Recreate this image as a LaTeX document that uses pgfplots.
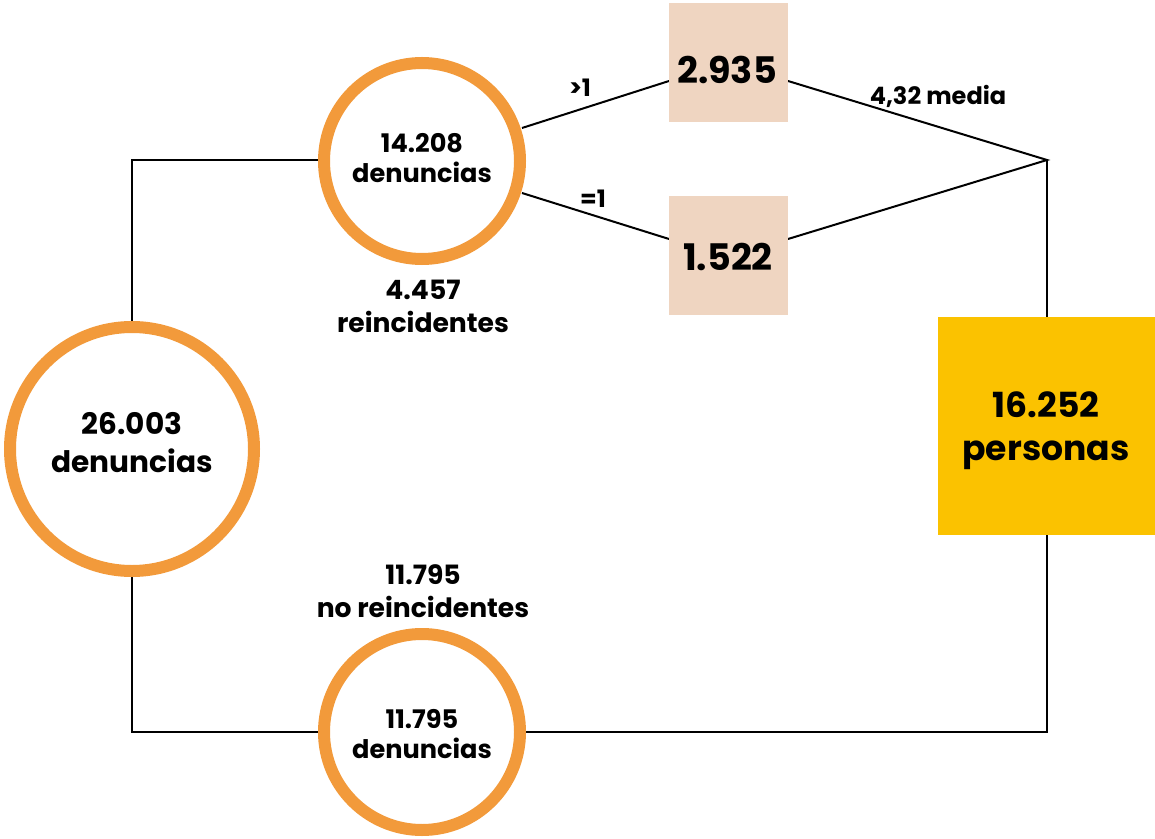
\documentclass[border=0pt]{standalone}
\usepackage{pgfplots}
\pgfplotsset{compat=1.18}
\usepackage{fontspec}
\setmainfont{Poppins}
\definecolor{ring}{HTML}{F29A3B}
\definecolor{peach}{HTML}{EFD5C1}
\definecolor{gold}{HTML}{FBC200}
\begin{document}
\begin{tikzpicture}
\begin{axis}[x=0.5pt, y=0.5pt, y dir=reverse, xmin=0, xmax=1155, ymin=0, ymax=839,
  hide axis, clip=false, scale only axis]
% connecting lines
\addplot[black, line width=1pt, mark=none] coordinates {(318,160) (132,160) (132,449)};
\addplot[black, line width=1pt, mark=none] coordinates {(132,449) (132,732) (422,732) (1047,732) (1047,160)};
\addplot[black, line width=1pt, mark=none] coordinates {(522,128) (669,81)};
\addplot[black, line width=1pt, mark=none] coordinates {(522,193) (669,239)};
\addplot[black, line width=1pt, mark=none] coordinates {(788,81) (1047,160) (788,239)};
% boxes
\addplot[fill=peach, draw=none, mark=none] coordinates {(669,3) (788,3) (788,122) (669,122)} -- cycle;
\addplot[fill=peach, draw=none, mark=none] coordinates {(669,196) (788,196) (788,315) (669,315)} -- cycle;
\addplot[fill=gold, draw=none, mark=none] coordinates {(938,317) (1155,317) (1155,535) (938,535)} -- cycle;
% rings
\addplot[only marks, mark=*, mark size=61pt, mark options={draw=ring, fill=white, line width=6pt}] coordinates {(132,449)};
\addplot[only marks, mark=*, mark size=49pt, mark options={draw=ring, fill=white, line width=6pt}] coordinates {(422,161) (422,732)};
% anchor coordinates for texts and frame
\coordinate (LL) at (axis cs:0,839);
\coordinate (UR) at (axis cs:1155,0);
\coordinate (t1) at (axis cs:132,443);
\coordinate (t2) at (axis cs:422,158);
\coordinate (t3) at (axis cs:422,734);
\coordinate (t4) at (axis cs:423,306);
\coordinate (t5) at (axis cs:423,591);
\coordinate (t6) at (axis cs:727,70);
\coordinate (t7) at (axis cs:728,257);
\coordinate (t8) at (axis cs:1046,431);
\coordinate (t9) at (axis cs:580,88);
\coordinate (t10) at (axis cs:593,199);
\coordinate (t11) at (axis cs:938,96);
\end{axis}
\begin{scope}[every node/.style={inner sep=0pt, align=center}]
\node[font=\bfseries\fontsize{14.8}{19}\selectfont] at (t1) {26.003\\denuncias};
\node[font=\bfseries\fontsize{12.8}{15}\selectfont] at (t2) {14.208\\denuncias};
\node[font=\bfseries\fontsize{12.8}{15}\selectfont] at (t3) {11.795\\denuncias};
\node[font=\bfseries\fontsize{13.3}{16.5}\selectfont] at (t4) {4.457\\reincidentes};
\node[font=\bfseries\fontsize{13.3}{16.5}\selectfont] at (t5) {11.795\\no reincidentes};
\node[font=\bfseries\fontsize{18.3}{22}\selectfont] at (t6) {2.935};
\node[font=\bfseries\fontsize{18.3}{22}\selectfont] at (t7) {1.522};
\node[font=\bfseries\fontsize{17.3}{21.5}\selectfont] at (t8) {16.252\\personas};
\node[font=\bfseries\fontsize{12}{14}\selectfont] at (t9) {>1};
\node[font=\bfseries\fontsize{12}{14}\selectfont] at (t10) {=1};
\node[font=\bfseries\fontsize{12}{14}\selectfont] at (t11) {4,32 media};
\end{scope}
\pgfresetboundingbox
\path (LL) rectangle (UR);
\end{tikzpicture}
\end{document}
